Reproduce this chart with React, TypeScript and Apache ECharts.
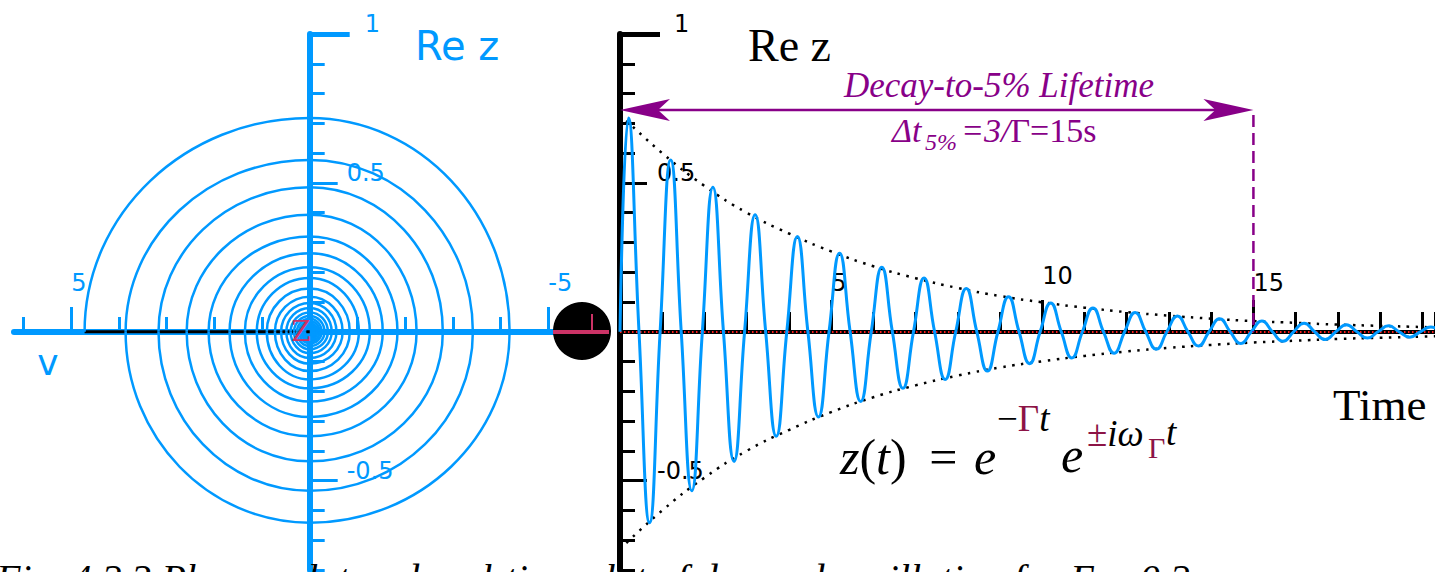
import React, { useEffect, useRef } from 'react';
import * as echarts from 'echarts';

// ---- readings ----
// extrema of Re z, one per cycle (shared by phasor spiral and time plot)
const peakT = [0.2, 1.2, 2.2, 3.2, 4.2, 5.2, 6.2, 7.2, 8.2, 9.2, 10.2, 11.2, 12.2, 13.2, 14.2, 15.2, 16.2, 17.2, 18.2, 19.2];
const peakV = [0.718, 0.577, 0.485, 0.393, 0.32, 0.264, 0.217, 0.181, 0.145, 0.118, 0.097, 0.08, 0.065, 0.053, 0.044, 0.036, 0.029, 0.024, 0.02, 0.016];
const troughT = [0.7, 1.7, 2.7, 3.7, 4.7, 5.7, 6.7, 7.7, 8.7, 9.7, 10.7, 11.7, 12.7, 13.7, 14.7, 15.7, 16.7, 17.7, 18.7, 19.7];
const troughV = [-0.641, -0.534, -0.435, -0.351, -0.286, -0.234, -0.19, -0.16, -0.132, -0.107, -0.088, -0.072, -0.059, -0.048, -0.039, -0.032, -0.026, -0.021, -0.018, -0.014];
// phasor crossings of the v axis (v > 0 drawn on the left)
const leftV = [4.72, 3.86, 3.17, 2.58, 2.12, 1.68, 1.36, 1.11, 0.9, 0.73, 0.6, 0.49, 0.4, 0.33, 0.27, 0.22, 0.18, 0.15, 0.12, 0.1];
const rightV = [-4.19, -3.42, -2.79, -2.24, -1.84, -1.53, -1.26, -1.03, -0.84, -0.69, -0.56, -0.46, -0.38, -0.31, -0.25, -0.21, -0.17, -0.14, -0.11, -0.09];
// dotted decay envelope
const envT = [0, 1, 2, 3, 4, 5, 6, 7, 8, 9, 10, 11, 12, 13, 14, 15, 16, 17, 18, 19, 20];
const envV = [0.73, 0.6, 0.49, 0.4, 0.33, 0.27, 0.22, 0.18, 0.147, 0.12, 0.099, 0.081, 0.066, 0.054, 0.044, 0.036, 0.03, 0.024, 0.02, 0.016, 0.013];
// ticks and labels
const vTicks = [6, 5, 4, 3, 2, 1, -1, -2, -3, -4, -5];
const vLabels = [5, -5];
const reLabels = [1, 0.5, -0.5];
const reLongTicks = [0.5, -0.5];
const reCapTick = [1];
const timeLabels = [5, 10, 15];
const lifetime = 15;
const arrowLevel = 0.745;
const dashTop = 0.728;

const BLUE = '#0099FF';
const PURPLE = '#880088';
const DARKRED = '#8C1446';
const PINK = '#CC3366';
const SANS = '"DejaVu Sans", sans-serif';
const SERIF = '"Liberation Serif", "DejaVu Serif", serif';
const KAPPA = 0.5523; // bezier constant for quarter ellipse arcs

const near = (a: number, b: number) => Math.abs(a - b) < 1e-6;

function reFormatter(v: number) {
  if (near(v, 1)) return '{one|1}';
  if (near(Math.abs(v), 0.5)) return String(v);
  return '';
}

function spiralArc(params: any, api: any) {
  const a0 = api.value(0), a1 = api.value(1);
  const A = api.coord([a0, a1]);
  const B = api.coord([api.value(2), api.value(3)]);
  let c1: number[], c2: number[];
  if (a1 === 0) {
    // starts on the v axis: vertical tangent, ends horizontal
    c1 = [A[0], A[1] + (B[1] - A[1]) * KAPPA];
    c2 = [B[0] + (A[0] - B[0]) * KAPPA, B[1]];
  } else {
    c1 = [A[0] + (B[0] - A[0]) * KAPPA, A[1]];
    c2 = [B[0], B[1] + (A[1] - B[1]) * KAPPA];
  }
  return {
    type: 'bezierCurve',
    shape: { x1: A[0], y1: A[1], x2: B[0], y2: B[1], cpx1: c1[0], cpy1: c1[1], cpx2: c2[0], cpy2: c2[1] },
    style: { stroke: BLUE, lineWidth: 2.5, fill: 'none' },
  };
}

function buildOption() {
  const pts: number[][] = [];
  leftV.forEach((lv, k) => {
    pts.push([lv, 0], [0, peakV[k]], [rightV[k], 0], [0, troughV[k]]);
  });
  const spiralSegs: number[][] = [];
  for (let i = 0; i + 1 < pts.length; i++) spiralSegs.push([pts[i][0], pts[i][1], pts[i + 1][0], pts[i + 1][1]]);

  const oscData: number[][] = [[0, 0]];
  peakT.forEach((pt, k) => {
    oscData.push([pt, peakV[k]], [(pt + troughT[k]) / 2, 0], [troughT[k], troughV[k]]);
    if (k + 1 < peakT.length) oscData.push([(troughT[k] + peakT[k + 1]) / 2, 0]);
  });
  const envUp = envT.map((t, i) => [t, envV[i]]);
  const envDown = envT.map((t, i) => [t, -envV[i]]);

  const leftYOffset = -295.7;
  const xOffset = -238;

  const reAxisBase = (grid: number, offset: number) => ({
    type: 'value', gridIndex: grid, min: -0.8, max: 1, position: 'left', offset,
    splitLine: { show: false },
  });

  return {
    animation: false,
    backgroundColor: '#fff',
    grid: [
      { left: 14, top: 34, width: 539, height: 536, outerBoundsMode: 'none' },
      { left: 620, top: 34, width: 815, height: 536, outerBoundsMode: 'none' },
    ],
    xAxis: [
      {
        type: 'value', gridIndex: 0, min: -5.1, max: 6.2, inverse: true, position: 'bottom', offset: xOffset,
        axisLine: { onZero: false, lineStyle: { color: BLUE, width: 6 } },
        axisTick: { inside: true, length: 15, customValues: vTicks, lineStyle: { color: BLUE, width: 3 } },
        axisLabel: {
          inside: true, customValues: vLabels, margin: 39, align: 'left', color: BLUE,
          fontSize: 24, lineHeight: 20, fontFamily: SANS,
          formatter: (v: number) => (vLabels.some((l) => near(l, v)) ? String(v) : ''),
        },
        splitLine: { show: false },
      },
      {
        type: 'value', gridIndex: 0, min: -5.1, max: 6.2, inverse: true, position: 'bottom', offset: xOffset,
        axisLine: { show: false, onZero: false },
        axisTick: { inside: true, length: 25, customValues: vLabels, lineStyle: { color: BLUE, width: 3 } },
        axisLabel: { show: false },
        splitLine: { show: false },
      },
      {
        type: 'value', gridIndex: 1, min: 0, max: 19.3, interval: 1, position: 'bottom', offset: xOffset,
        axisLine: { onZero: false, lineStyle: { color: '#000', width: 4 } },
        axisTick: { inside: true, length: 20, lineStyle: { color: '#000', width: 3 } },
        axisLabel: {
          inside: true, customValues: timeLabels, margin: 39, align: 'left', color: '#000',
          fontSize: 24, lineHeight: 20, fontFamily: SANS,
          formatter: (v: number) => (near(v, 10) ? '{hi|10}' : timeLabels.some((l) => near(l, v)) ? String(v) : ''),
          rich: { hi: { padding: [0, 0, 14, 0], fontSize: 24, lineHeight: 20, fontFamily: SANS, color: '#000' } },
        },
        splitLine: { show: false },
      },
      {
        type: 'value', gridIndex: 1, min: 0, max: 19.3, position: 'bottom', offset: xOffset,
        axisLine: { show: false, onZero: false },
        axisTick: { inside: true, length: 32, customValues: timeLabels, lineStyle: { color: '#000', width: 3 } },
        axisLabel: { show: false },
        splitLine: { show: false },
      },
    ],
    yAxis: [
      {
        ...reAxisBase(0, leftYOffset), interval: 0.1,
        axisLine: { onZero: false, lineStyle: { color: BLUE, width: 6 } },
        axisTick: { inside: true, length: 15, lineStyle: { color: BLUE, width: 3 } },
        axisLabel: {
          inside: true, margin: 37, color: BLUE, fontSize: 24, lineHeight: 20, fontFamily: SANS,
          verticalAlign: 'bottom', customValues: reLabels, formatter: reFormatter,
          rich: { one: { padding: [0, 0, 0, 18], fontSize: 24, lineHeight: 20, fontFamily: SANS, color: BLUE } },
        },
      },
      {
        ...reAxisBase(0, leftYOffset),
        axisLine: { show: false, onZero: false },
        axisTick: { inside: true, length: 28, customValues: reLongTicks, lineStyle: { color: BLUE, width: 3 } },
        axisLabel: { show: false },
      },
      {
        ...reAxisBase(0, leftYOffset),
        axisLine: { show: false, onZero: false },
        axisTick: { inside: true, length: 40, customValues: reCapTick, lineStyle: { color: BLUE, width: 5 } },
        axisLabel: { show: false },
      },
      {
        ...reAxisBase(1, 0), interval: 0.1,
        axisLine: { onZero: false, lineStyle: { color: '#000', width: 6 } },
        axisTick: { inside: true, length: 15, lineStyle: { color: '#000', width: 3 } },
        axisLabel: {
          inside: true, margin: 37, color: '#000', fontSize: 24, lineHeight: 20, fontFamily: SANS,
          verticalAlign: 'bottom', customValues: reLabels, formatter: reFormatter,
          rich: { one: { padding: [0, 0, 0, 17], fontSize: 24, lineHeight: 20, fontFamily: SANS, color: '#000' } },
        },
      },
      {
        ...reAxisBase(1, 0),
        axisLine: { show: false, onZero: false },
        axisTick: { inside: true, length: 27, customValues: reLongTicks, lineStyle: { color: '#000', width: 3 } },
        axisLabel: { show: false },
      },
      {
        ...reAxisBase(1, 0),
        axisLine: { show: false, onZero: false },
        axisTick: { inside: true, length: 40, customValues: reCapTick, lineStyle: { color: '#000', width: 5 } },
        axisLabel: { show: false },
      },
    ],
    series: [
      {
        name: 'phasor', type: 'custom', xAxisIndex: 0, yAxisIndex: 0, data: spiralSegs,
        encode: { x: [0, 2], y: [1, 3] }, renderItem: spiralArc, z: 4, silent: true,
      },
      {
        name: 'v0', type: 'line', xAxisIndex: 0, yAxisIndex: 0, data: [[leftV[0], 0], [0, 0]],
        symbol: 'none', z: 3, silent: true,
        lineStyle: { color: '#000', width: 3 },
      },
      {
        name: 'envUp', type: 'line', xAxisIndex: 2, yAxisIndex: 3, data: envUp,
        smooth: true, symbol: 'none', z: 3, silent: true,
        lineStyle: { color: '#000', width: 2.5, type: [2.5, 6.5], cap: 'butt' },
        markLine: {
          silent: true, symbol: 'none', label: { show: false },
          lineStyle: { color: '#FF1A1A', width: 2, type: [1.5, 2.5] },
          data: [{ yAxis: 0 }],
        },
      },
      {
        name: 'envDown', type: 'line', xAxisIndex: 2, yAxisIndex: 3, data: envDown,
        smooth: true, symbol: 'none', z: 3, silent: true,
        lineStyle: { color: '#000', width: 2.5, type: [2.5, 6.5], cap: 'butt' },
      },
      {
        name: 'Re z', type: 'line', xAxisIndex: 2, yAxisIndex: 3, data: oscData,
        smooth: 0.5, symbol: 'none', z: 5, silent: true,
        lineStyle: { color: BLUE, width: 3 },
      },
    ],
  };
}

function txt(text: string, x: number, y: number, o: any = {}) {
  return {
    type: 'text', z: 20, silent: true,
    style: {
      text, x, y,
      fontSize: o.size || 24, fontFamily: o.family || SERIF, fontStyle: o.style || 'normal',
      fill: o.fill || '#000',
      align: o.align || 'left', textAlign: o.align || 'left',
      verticalAlign: 'middle', textVerticalAlign: 'middle',
      rich: o.rich,
    },
  };
}

export default function App() {
  const ref = useRef<HTMLDivElement>(null);
  useEffect(() => {
    document.body.style.margin = '0';
    const chart = echarts.init(ref.current!, null, { renderer: 'svg' });
    chart.setOption(buildOption() as any);

    const px = (t: number, v: number) => chart.convertToPixel({ seriesIndex: 4 }, [t, v]) as number[];
    const a = px(0, arrowLevel);
    const b = px(lifetime, arrowLevel);
    const dTop = px(lifetime, dashTop);
    const dBot = px(lifetime, 0);

    const it = (size: number, fill = '#000') => ({ fontSize: size, fontFamily: SERIF, fontStyle: 'italic', fill });
    const up = (size: number, fill = '#000') => ({ fontSize: size, fontFamily: SERIF, fontStyle: 'normal', fill });

    const elements: any[] = [
      // decay-to-5% arrow
      { type: 'line', z: 20, silent: true, shape: { x1: a[0] + 36, y1: a[1], x2: b[0] - 36, y2: b[1] }, style: { stroke: PURPLE, lineWidth: 2.5 } },
      { type: 'polygon', z: 20, silent: true, shape: { points: [[a[0], a[1]], [a[0] + 50, a[1] - 11], [a[0] + 38, a[1]], [a[0] + 50, a[1] + 11]] }, style: { fill: PURPLE } },
      { type: 'polygon', z: 20, silent: true, shape: { points: [[b[0], b[1]], [b[0] - 50, b[1] - 11], [b[0] - 38, b[1]], [b[0] - 50, b[1] + 11]] }, style: { fill: PURPLE } },
      { type: 'line', z: 20, silent: true, shape: { x1: dTop[0], y1: dTop[1], x2: dBot[0], y2: dBot[1] }, style: { stroke: PURPLE, lineWidth: 2.5, lineDash: [12, 6] } },
      // ball at the end of the v axis
      { type: 'circle', z: 30, silent: true, shape: { cx: 582, cy: 331, r: 29 }, style: { fill: '#000' } },
      { type: 'line', z: 31, silent: true, shape: { x1: 553, y1: 332, x2: 609, y2: 332 }, style: { stroke: PINK, lineWidth: 4 } },
      { type: 'line', z: 31, silent: true, shape: { x1: 592, y1: 314, x2: 592, y2: 332 }, style: { stroke: PINK, lineWidth: 2 } },
      txt('Z', 301, 331, { size: 28, family: '"DejaVu Serif", serif', fill: PINK, align: 'center' }),
      // axis titles
      txt('Re z', 415, 46, { size: 40, family: SANS, fill: BLUE }),
      txt('v', 48, 362, { size: 36, family: SANS, fill: BLUE, align: 'center' }),
      txt('Re z', 748, 45, { size: 46 }),
      txt('Time', 1333, 405, { size: 45 }),
      // lifetime annotation
      txt('Decay-to-5% Lifetime', 999, 85, { size: 35, style: 'italic', fill: PURPLE, align: 'center' }),
      txt('Δt', 892, 130, { size: 34, style: 'italic', fill: PURPLE }),
      txt('5%', 925, 142, { size: 24, style: 'italic', fill: PURPLE }),
      txt('{i|=3/}{r|Γ=15s}', 961, 130, { size: 34, fill: PURPLE, rich: { i: it(34, PURPLE), r: up(34, PURPLE) } }),
      // formula
      txt('{i|z}{r|(}{i|t}{r|) \u2009= \u200A}{i|e}', 840, 457, { size: 50, rich: { i: it(50), r: up(50) } }),
      txt('{r|−}{g|Γ}{i|t}', 997, 418, { size: 37, rich: { r: up(37), g: up(37, DARKRED), i: it(37) } }),
      txt('e', 1061, 455, { size: 50, style: 'italic' }),
      txt('{g|±}{i|iω}', 1087, 433, { size: 37, rich: { g: up(37, DARKRED), i: it(37) } }),
      txt('Γ', 1148, 447, { size: 30, fill: DARKRED }),
      txt('t', 1166, 432, { size: 37, style: 'italic' }),
      // cropped texts at the page edges
      txt('dambInZ', 1205, -15, { size: 43, style: 'italic', fill: DARKRED }),
      txt('Fig. 4.2.3 Phasor plot and real-time plot of damped oscillation for Γ = 0.2', -4, 578, { size: 40, style: 'italic' }),
    ];
    chart.setOption({ graphic: { elements } } as any);
    return () => chart.dispose();
  }, []);
  return <div ref={ref} style={{ width: 1435, height: 572 }} />;
}
